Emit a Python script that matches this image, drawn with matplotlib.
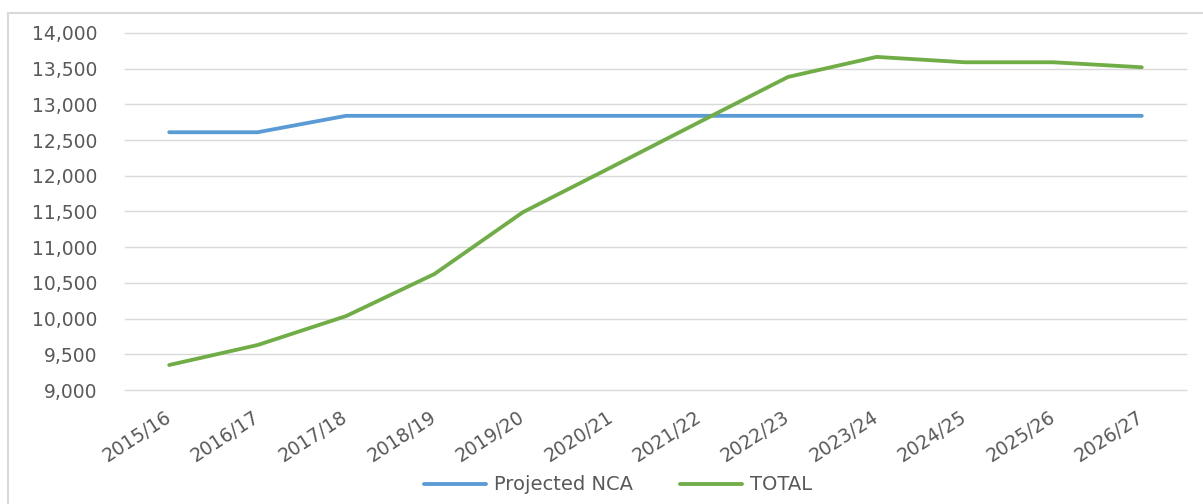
import matplotlib.pyplot as plt
from matplotlib.patches import Rectangle
from matplotlib.ticker import FuncFormatter

years = ["2015/16", "2016/17", "2017/18", "2018/19", "2019/20", "2020/21",
         "2021/22", "2022/23", "2023/24", "2024/25", "2025/26", "2026/27"]
projected_nca = [12610, 12610, 12840, 12840, 12840, 12840,
                 12840, 12840, 12840, 12840, 12840, 12840]
total = [9350, 9630, 10035, 10625, 11490, 12120,
         12755, 13385, 13665, 13590, 13590, 13520]

grey = "#595959"
plt.rcParams['font.family'] = ['DejaVu Sans']

fig = plt.figure(figsize=(12.03, 5.04), dpi=100)
ax = fig.add_axes([125 / 1203, 1 - 390 / 504, (1186 - 125) / 1203, (390 - 33) / 504])

x = range(len(years))
ax.plot(x, projected_nca, color="#5B9BD5", lw=2.75, label="Projected NCA",
        solid_capstyle="round", solid_joinstyle="round")
ax.plot(x, total, color="#70AD47", lw=2.75, label="TOTAL",
        solid_capstyle="round", solid_joinstyle="round")

ax.set_xlim(-0.5, len(years) - 0.5)
ax.set_ylim(9000, 14000)
ax.set_yticks(range(9000, 14001, 500))
ax.yaxis.set_major_formatter(FuncFormatter(lambda v, p: f"{int(v):,}"))
ax.set_xticks(list(x))
ax.set_xticklabels(years, rotation=33, ha="right", va="center",
                   rotation_mode="anchor")

ax.grid(axis="y", color="#d9d9d9", lw=1)
for gl in ax.get_ygridlines():
    gl.set_clip_on(False)
ax.set_axisbelow(True)
for s in ax.spines.values():
    s.set_visible(False)
ax.tick_params(axis="both", length=0, labelsize=13.5, colors=grey)
ax.tick_params(axis="y", pad=20)
ax.tick_params(axis="x", pad=18)

# chart border (Excel chart area)
fig.patches.append(Rectangle((8 / 1203, -0.1), 1.2, 1 - 13 / 504 + 0.1,
                             transform=fig.transFigure, fill=False,
                             edgecolor="#d9d9d9", lw=1.5))

leg = fig.legend(loc="center", bbox_to_anchor=(618 / 1203, 1 - 485 / 504),
                 ncol=2, frameon=False, fontsize=14, handlelength=3.2,
                 columnspacing=2.4, handletextpad=0.4)
for t in leg.get_texts():
    t.set_color(grey)

fig.savefig("out.png", dpi=100)
